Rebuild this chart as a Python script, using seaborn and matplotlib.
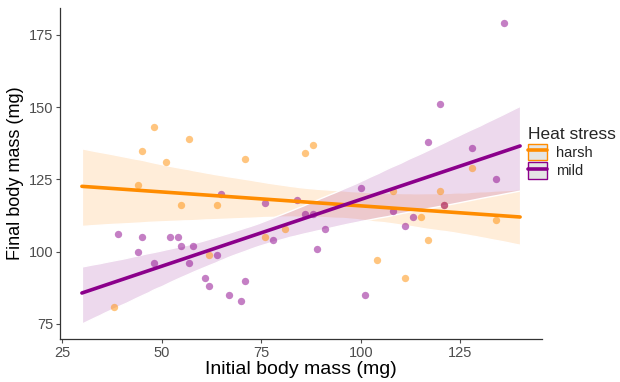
import numpy as np
import pandas as pd
import matplotlib
matplotlib.use("Agg")
import matplotlib.pyplot as plt
import seaborn as sns
from matplotlib.patches import Patch
from matplotlib.lines import Line2D

# ---- data ----
harsh_initial = [38, 44, 45, 48, 51, 55, 57, 62, 64, 71, 76, 81, 86, 88,
                 104, 108, 111, 115, 117, 120, 121, 128, 134]
harsh_final = [81, 123, 135, 143, 131, 116, 139, 99, 116, 132, 105, 108, 134, 137,
               97, 121, 91, 112, 104, 121, 116, 129, 111]
mild_initial = [39, 44, 45, 48, 52, 54, 55, 57, 58, 61, 62, 64, 65, 67, 70, 71,
                76, 78, 84, 86, 88, 89, 91, 100, 101, 108, 111, 113, 117, 120,
                121, 128, 134, 136]
mild_final = [106, 100, 105, 96, 105, 105, 102, 96, 102, 91, 88, 99, 120, 85, 83, 90,
              117, 104, 118, 113, 113, 101, 108, 122, 85, 114, 109, 112, 138, 151,
              116, 136, 125, 179]
groups = ["harsh", "mild"]
colors = {"harsh": "#FF8C00", "mild": "#8B008B"}
x_ticks = [25, 50, 75, 100, 125]
y_ticks = [75, 100, 125, 150, 175]

df = pd.concat([
    pd.DataFrame({"initial": harsh_initial, "final": harsh_final, "stress": "harsh"}),
    pd.DataFrame({"initial": mild_initial, "final": mild_final, "stress": "mild"}),
])

sns.set_style("white")
plt.rcParams["font.family"] = ["Liberation Sans", "DejaVu Sans"]

fig = plt.figure(figsize=(6.2, 3.82), dpi=100)
ax = fig.add_axes([60 / 620, 43 / 382, 482 / 620, 331 / 382])

# fit lines drawn over the full range 30..140
ax.set_xlim(30, 140)
ci_level = {"harsh": 88, "mild": 93}
for g in groups:
    sub = df[df["stress"] == g]
    sns.regplot(data=sub, x="initial", y="final", ax=ax, truncate=False,
                color=colors[g], ci=ci_level[g], n_boot=2000, seed=3,
                scatter_kws=dict(s=28, alpha=0.5, linewidths=0, zorder=3),
                line_kws=dict(lw=2.6, zorder=4))
# lighten ribbons
for coll in ax.collections:
    if isinstance(coll, matplotlib.collections.PolyCollection):
        fc = coll.get_facecolor()
        coll.set_alpha(None)
        c = fc[0].copy()
        coll.set_facecolor((c[0], c[1], c[2], 0.15))
        coll.set_zorder(1)

ax.set_xlim(24.5, 145.5)
ax.set_ylim(69.8, 184.3)
ax.set_xticks(x_ticks)
ax.set_yticks(y_ticks)
ax.set_xlabel("Initial body mass (mg)", fontsize=14, color="black", labelpad=1)
ax.set_ylabel("Final body mass (mg)", fontsize=13, color="black", labelpad=3)
ax.tick_params(axis="both", labelsize=10.5, colors="#4D4D4D", length=3, width=0.8,
               direction="out", pad=2)
ax.tick_params(bottom=True, left=True)
for s in ["top", "right"]:
    ax.spines[s].set_visible(False)
for s in ["left", "bottom"]:
    ax.spines[s].set_color("#333333")
    ax.spines[s].set_linewidth(0.9)

handles = []
for g in groups:
    handles.append((Patch(facecolor="#E5E5E5", edgecolor=colors[g], alpha=1, lw=1.0),
                    Line2D([], [], color=colors[g], lw=2.6)))
leg = fig.legend(handles, groups, title="Heat stress", loc="upper left",
                 bbox_to_anchor=(515 / 620, 1 - 114 / 382), frameon=False,
                 fontsize=10.5, title_fontsize=12.5, handlelength=1.3,
                 handleheight=1.4, handletextpad=0.6, labelspacing=0.1,
                 alignment="left")

fig.savefig("out.png", dpi=100)
